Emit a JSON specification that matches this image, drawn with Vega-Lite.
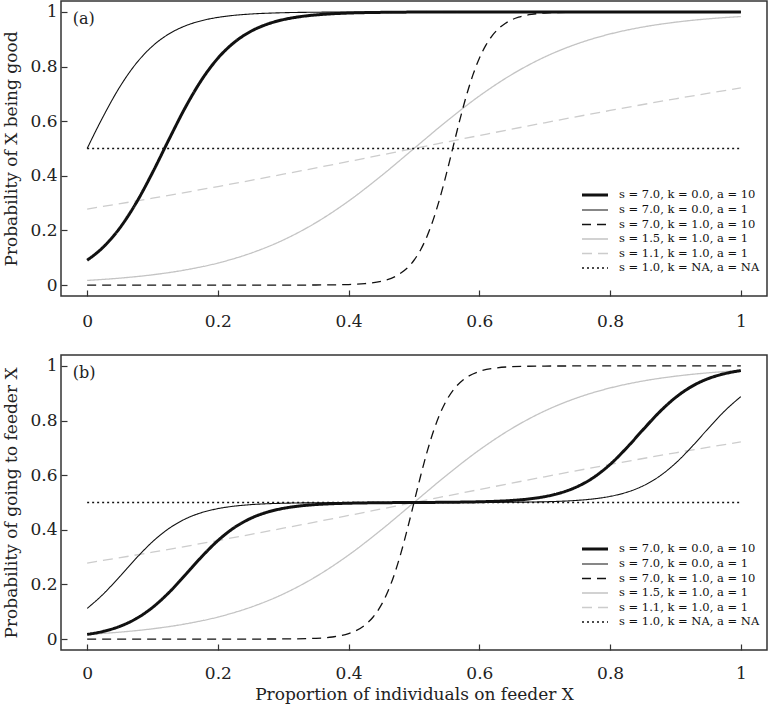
{
"$schema": "https://vega.github.io/schema/vega-lite/v6.json",
"background": "white",
"padding": {"left": 2, "top": 0, "right": 2, "bottom": 2},
"config": {
 "font": "DejaVu Serif",
 "view": {"stroke": "#333", "strokeWidth": 1.5},
 "axis": {"labelFont": "DejaVu Serif", "titleFont": "DejaVu Serif", "labelFontSize": 17, "titleFontSize": 17, "titleFontWeight": "normal", "labelColor": "#222", "titleColor": "#222", "domain": false, "grid": false, "tickColor": "#333", "tickSize": -6, "tickWidth": 1.2},
 "legend": {"orient": "none", "legendX": 526, "legendY": 186, "padding": 0, "labelFont": "DejaVu Serif", "labelFontSize": 11.5, "labelColor": "#111", "labelLimit": 300, "symbolType": "M-2,0H2", "symbolSize": 169, "labelOffset": 16, "rowPadding": 1.5}
},
"datasets": {"curves": [
{"panel":"a","series":"s = 1.5, k = 1.0, a = 1","x":0,"y":0.017},
{"panel":"a","series":"s = 1.5, k = 1.0, a = 1","x":0.05,"y":0.0254},
{"panel":"a","series":"s = 1.5, k = 1.0, a = 1","x":0.1,"y":0.0376},
{"panel":"a","series":"s = 1.5, k = 1.0, a = 1","x":0.15,"y":0.0553},
{"panel":"a","series":"s = 1.5, k = 1.0, a = 1","x":0.2,"y":0.0807},
{"panel":"a","series":"s = 1.5, k = 1.0, a = 1","x":0.25,"y":0.1164},
{"panel":"a","series":"s = 1.5, k = 1.0, a = 1","x":0.3,"y":0.1649},
{"panel":"a","series":"s = 1.5, k = 1.0, a = 1","x":0.35,"y":0.2286},
{"panel":"a","series":"s = 1.5, k = 1.0, a = 1","x":0.4,"y":0.3077},
{"panel":"a","series":"s = 1.5, k = 1.0, a = 1","x":0.45,"y":0.4},
{"panel":"a","series":"s = 1.5, k = 1.0, a = 1","x":0.5,"y":0.5},
{"panel":"a","series":"s = 1.5, k = 1.0, a = 1","x":0.55,"y":0.6},
{"panel":"a","series":"s = 1.5, k = 1.0, a = 1","x":0.6,"y":0.6923},
{"panel":"a","series":"s = 1.5, k = 1.0, a = 1","x":0.65,"y":0.7714},
{"panel":"a","series":"s = 1.5, k = 1.0, a = 1","x":0.7,"y":0.8351},
{"panel":"a","series":"s = 1.5, k = 1.0, a = 1","x":0.75,"y":0.8836},
{"panel":"a","series":"s = 1.5, k = 1.0, a = 1","x":0.8,"y":0.9193},
{"panel":"a","series":"s = 1.5, k = 1.0, a = 1","x":0.85,"y":0.9447},
{"panel":"a","series":"s = 1.5, k = 1.0, a = 1","x":0.9,"y":0.9624},
{"panel":"a","series":"s = 1.5, k = 1.0, a = 1","x":0.95,"y":0.9747},
{"panel":"a","series":"s = 1.5, k = 1.0, a = 1","x":1,"y":0.983},
{"panel":"a","series":"s = 1.1, k = 1.0, a = 1","x":0,"y":0.2783},
{"panel":"a","series":"s = 1.1, k = 1.0, a = 1","x":0.1,"y":0.3181},
{"panel":"a","series":"s = 1.1, k = 1.0, a = 1","x":0.2,"y":0.3608},
{"panel":"a","series":"s = 1.1, k = 1.0, a = 1","x":0.3,"y":0.4058},
{"panel":"a","series":"s = 1.1, k = 1.0, a = 1","x":0.4,"y":0.4525},
{"panel":"a","series":"s = 1.1, k = 1.0, a = 1","x":0.5,"y":0.5},
{"panel":"a","series":"s = 1.1, k = 1.0, a = 1","x":0.6,"y":0.5475},
{"panel":"a","series":"s = 1.1, k = 1.0, a = 1","x":0.7,"y":0.5942},
{"panel":"a","series":"s = 1.1, k = 1.0, a = 1","x":0.8,"y":0.6392},
{"panel":"a","series":"s = 1.1, k = 1.0, a = 1","x":0.9,"y":0.6819},
{"panel":"a","series":"s = 1.1, k = 1.0, a = 1","x":1,"y":0.7217},
{"panel":"a","series":"s = 1.0, k = NA, a = NA","x":0,"y":0.5},
{"panel":"a","series":"s = 1.0, k = NA, a = NA","x":1,"y":0.5},
{"panel":"a","series":"s = 7.0, k = 1.0, a = 10","x":0,"y":0},
{"panel":"a","series":"s = 7.0, k = 1.0, a = 10","x":0.1,"y":0},
{"panel":"a","series":"s = 7.0, k = 1.0, a = 10","x":0.2,"y":0},
{"panel":"a","series":"s = 7.0, k = 1.0, a = 10","x":0.3,"y":0.00004},
{"panel":"a","series":"s = 7.0, k = 1.0, a = 10","x":0.35,"y":0.0003},
{"panel":"a","series":"s = 7.0, k = 1.0, a = 10","x":0.4,"y":0.002},
{"panel":"a","series":"s = 7.0, k = 1.0, a = 10","x":0.425,"y":0.0054},
{"panel":"a","series":"s = 7.0, k = 1.0, a = 10","x":0.45,"y":0.0141},
{"panel":"a","series":"s = 7.0, k = 1.0, a = 10","x":0.475,"y":0.0364},
{"panel":"a","series":"s = 7.0, k = 1.0, a = 10","x":0.5,"y":0.0909},
{"panel":"a","series":"s = 7.0, k = 1.0, a = 10","x":0.51,"y":0.1286},
{"panel":"a","series":"s = 7.0, k = 1.0, a = 10","x":0.52,"y":0.1789},
{"panel":"a","series":"s = 7.0, k = 1.0, a = 10","x":0.53,"y":0.2432},
{"panel":"a","series":"s = 7.0, k = 1.0, a = 10","x":0.54,"y":0.3217},
{"panel":"a","series":"s = 7.0, k = 1.0, a = 10","x":0.55,"y":0.4117},
{"panel":"a","series":"s = 7.0, k = 1.0, a = 10","x":0.56,"y":0.508},
{"panel":"a","series":"s = 7.0, k = 1.0, a = 10","x":0.57,"y":0.6037},
{"panel":"a","series":"s = 7.0, k = 1.0, a = 10","x":0.58,"y":0.6921},
{"panel":"a","series":"s = 7.0, k = 1.0, a = 10","x":0.59,"y":0.7685},
{"panel":"a","series":"s = 7.0, k = 1.0, a = 10","x":0.6,"y":0.8305},
{"panel":"a","series":"s = 7.0, k = 1.0, a = 10","x":0.61,"y":0.8785},
{"panel":"a","series":"s = 7.0, k = 1.0, a = 10","x":0.62,"y":0.9142},
{"panel":"a","series":"s = 7.0, k = 1.0, a = 10","x":0.64,"y":0.9587},
{"panel":"a","series":"s = 7.0, k = 1.0, a = 10","x":0.66,"y":0.9806},
{"panel":"a","series":"s = 7.0, k = 1.0, a = 10","x":0.68,"y":0.991},
{"panel":"a","series":"s = 7.0, k = 1.0, a = 10","x":0.7,"y":0.9959},
{"panel":"a","series":"s = 7.0, k = 1.0, a = 10","x":0.75,"y":0.9994},
{"panel":"a","series":"s = 7.0, k = 1.0, a = 10","x":0.8,"y":1},
{"panel":"a","series":"s = 7.0, k = 1.0, a = 10","x":0.9,"y":1},
{"panel":"a","series":"s = 7.0, k = 1.0, a = 10","x":1,"y":1},
{"panel":"a","series":"s = 7.0, k = 0.0, a = 1","x":0,"y":0.5},
{"panel":"a","series":"s = 7.0, k = 0.0, a = 1","x":0.025,"y":0.6193},
{"panel":"a","series":"s = 7.0, k = 0.0, a = 1","x":0.05,"y":0.7257},
{"panel":"a","series":"s = 7.0, k = 0.0, a = 1","x":0.075,"y":0.8114},
{"panel":"a","series":"s = 7.0, k = 0.0, a = 1","x":0.1,"y":0.875},
{"panel":"a","series":"s = 7.0, k = 0.0, a = 1","x":0.125,"y":0.9193},
{"panel":"a","series":"s = 7.0, k = 0.0, a = 1","x":0.15,"y":0.9488},
{"panel":"a","series":"s = 7.0, k = 0.0, a = 1","x":0.175,"y":0.9679},
{"panel":"a","series":"s = 7.0, k = 0.0, a = 1","x":0.2,"y":0.98},
{"panel":"a","series":"s = 7.0, k = 0.0, a = 1","x":0.225,"y":0.9876},
{"panel":"a","series":"s = 7.0, k = 0.0, a = 1","x":0.25,"y":0.9923},
{"panel":"a","series":"s = 7.0, k = 0.0, a = 1","x":0.3,"y":0.9971},
{"panel":"a","series":"s = 7.0, k = 0.0, a = 1","x":0.35,"y":0.9989},
{"panel":"a","series":"s = 7.0, k = 0.0, a = 1","x":0.4,"y":0.9996},
{"panel":"a","series":"s = 7.0, k = 0.0, a = 1","x":0.5,"y":0.9999},
{"panel":"a","series":"s = 7.0, k = 0.0, a = 1","x":0.6,"y":1},
{"panel":"a","series":"s = 7.0, k = 0.0, a = 1","x":0.8,"y":1},
{"panel":"a","series":"s = 7.0, k = 0.0, a = 1","x":1,"y":1},
{"panel":"a","series":"s = 7.0, k = 0.0, a = 10","x":0,"y":0.0909},
{"panel":"a","series":"s = 7.0, k = 0.0, a = 10","x":0.025,"y":0.1399},
{"panel":"a","series":"s = 7.0, k = 0.0, a = 10","x":0.05,"y":0.2092},
{"panel":"a","series":"s = 7.0, k = 0.0, a = 10","x":0.075,"y":0.3009},
{"panel":"a","series":"s = 7.0, k = 0.0, a = 10","x":0.1,"y":0.4118},
{"panel":"a","series":"s = 7.0, k = 0.0, a = 10","x":0.125,"y":0.5324},
{"panel":"a","series":"s = 7.0, k = 0.0, a = 10","x":0.15,"y":0.6494},
{"panel":"a","series":"s = 7.0, k = 0.0, a = 10","x":0.175,"y":0.7508},
{"panel":"a","series":"s = 7.0, k = 0.0, a = 10","x":0.2,"y":0.8305},
{"panel":"a","series":"s = 7.0, k = 0.0, a = 10","x":0.225,"y":0.8885},
{"panel":"a","series":"s = 7.0, k = 0.0, a = 10","x":0.25,"y":0.9284},
{"panel":"a","series":"s = 7.0, k = 0.0, a = 10","x":0.275,"y":0.9547},
{"panel":"a","series":"s = 7.0, k = 0.0, a = 10","x":0.3,"y":0.9717},
{"panel":"a","series":"s = 7.0, k = 0.0, a = 10","x":0.325,"y":0.9824},
{"panel":"a","series":"s = 7.0, k = 0.0, a = 10","x":0.35,"y":0.9891},
{"panel":"a","series":"s = 7.0, k = 0.0, a = 10","x":0.375,"y":0.9933},
{"panel":"a","series":"s = 7.0, k = 0.0, a = 10","x":0.4,"y":0.9959},
{"panel":"a","series":"s = 7.0, k = 0.0, a = 10","x":0.45,"y":0.9984},
{"panel":"a","series":"s = 7.0, k = 0.0, a = 10","x":0.5,"y":0.9994},
{"panel":"a","series":"s = 7.0, k = 0.0, a = 10","x":0.6,"y":0.9999},
{"panel":"a","series":"s = 7.0, k = 0.0, a = 10","x":0.7,"y":1},
{"panel":"a","series":"s = 7.0, k = 0.0, a = 10","x":0.85,"y":1},
{"panel":"a","series":"s = 7.0, k = 0.0, a = 10","x":1,"y":1},
{"panel":"b","series":"s = 1.5, k = 1.0, a = 1","x":0,"y":0.017},
{"panel":"b","series":"s = 1.5, k = 1.0, a = 1","x":0.05,"y":0.0254},
{"panel":"b","series":"s = 1.5, k = 1.0, a = 1","x":0.1,"y":0.0376},
{"panel":"b","series":"s = 1.5, k = 1.0, a = 1","x":0.15,"y":0.0553},
{"panel":"b","series":"s = 1.5, k = 1.0, a = 1","x":0.2,"y":0.0807},
{"panel":"b","series":"s = 1.5, k = 1.0, a = 1","x":0.25,"y":0.1164},
{"panel":"b","series":"s = 1.5, k = 1.0, a = 1","x":0.3,"y":0.1649},
{"panel":"b","series":"s = 1.5, k = 1.0, a = 1","x":0.35,"y":0.2286},
{"panel":"b","series":"s = 1.5, k = 1.0, a = 1","x":0.4,"y":0.3077},
{"panel":"b","series":"s = 1.5, k = 1.0, a = 1","x":0.45,"y":0.4},
{"panel":"b","series":"s = 1.5, k = 1.0, a = 1","x":0.5,"y":0.5},
{"panel":"b","series":"s = 1.5, k = 1.0, a = 1","x":0.55,"y":0.6},
{"panel":"b","series":"s = 1.5, k = 1.0, a = 1","x":0.6,"y":0.6923},
{"panel":"b","series":"s = 1.5, k = 1.0, a = 1","x":0.65,"y":0.7714},
{"panel":"b","series":"s = 1.5, k = 1.0, a = 1","x":0.7,"y":0.8351},
{"panel":"b","series":"s = 1.5, k = 1.0, a = 1","x":0.75,"y":0.8836},
{"panel":"b","series":"s = 1.5, k = 1.0, a = 1","x":0.8,"y":0.9193},
{"panel":"b","series":"s = 1.5, k = 1.0, a = 1","x":0.85,"y":0.9447},
{"panel":"b","series":"s = 1.5, k = 1.0, a = 1","x":0.9,"y":0.9624},
{"panel":"b","series":"s = 1.5, k = 1.0, a = 1","x":0.95,"y":0.9747},
{"panel":"b","series":"s = 1.5, k = 1.0, a = 1","x":1,"y":0.983},
{"panel":"b","series":"s = 1.1, k = 1.0, a = 1","x":0,"y":0.2783},
{"panel":"b","series":"s = 1.1, k = 1.0, a = 1","x":0.1,"y":0.3181},
{"panel":"b","series":"s = 1.1, k = 1.0, a = 1","x":0.2,"y":0.3608},
{"panel":"b","series":"s = 1.1, k = 1.0, a = 1","x":0.3,"y":0.4058},
{"panel":"b","series":"s = 1.1, k = 1.0, a = 1","x":0.4,"y":0.4525},
{"panel":"b","series":"s = 1.1, k = 1.0, a = 1","x":0.5,"y":0.5},
{"panel":"b","series":"s = 1.1, k = 1.0, a = 1","x":0.6,"y":0.5475},
{"panel":"b","series":"s = 1.1, k = 1.0, a = 1","x":0.7,"y":0.5942},
{"panel":"b","series":"s = 1.1, k = 1.0, a = 1","x":0.8,"y":0.6392},
{"panel":"b","series":"s = 1.1, k = 1.0, a = 1","x":0.9,"y":0.6819},
{"panel":"b","series":"s = 1.1, k = 1.0, a = 1","x":1,"y":0.7217},
{"panel":"b","series":"s = 1.0, k = NA, a = NA","x":0,"y":0.5},
{"panel":"b","series":"s = 1.0, k = NA, a = NA","x":1,"y":0.5},
{"panel":"b","series":"s = 7.0, k = 1.0, a = 10","x":0,"y":0},
{"panel":"b","series":"s = 7.0, k = 1.0, a = 10","x":0.2,"y":0},
{"panel":"b","series":"s = 7.0, k = 1.0, a = 10","x":0.3,"y":0.0004},
{"panel":"b","series":"s = 7.0, k = 1.0, a = 10","x":0.35,"y":0.0029},
{"panel":"b","series":"s = 7.0, k = 1.0, a = 10","x":0.375,"y":0.0076},
{"panel":"b","series":"s = 7.0, k = 1.0, a = 10","x":0.4,"y":0.02},
{"panel":"b","series":"s = 7.0, k = 1.0, a = 10","x":0.425,"y":0.0513},
{"panel":"b","series":"s = 7.0, k = 1.0, a = 10","x":0.4375,"y":0.0807},
{"panel":"b","series":"s = 7.0, k = 1.0, a = 10","x":0.45,"y":0.125},
{"panel":"b","series":"s = 7.0, k = 1.0, a = 10","x":0.46,"y":0.1741},
{"panel":"b","series":"s = 7.0, k = 1.0, a = 10","x":0.47,"y":0.2373},
{"panel":"b","series":"s = 7.0, k = 1.0, a = 10","x":0.48,"y":0.3147},
{"panel":"b","series":"s = 7.0, k = 1.0, a = 10","x":0.49,"y":0.404},
{"panel":"b","series":"s = 7.0, k = 1.0, a = 10","x":0.5,"y":0.5},
{"panel":"b","series":"s = 7.0, k = 1.0, a = 10","x":0.51,"y":0.596},
{"panel":"b","series":"s = 7.0, k = 1.0, a = 10","x":0.52,"y":0.6853},
{"panel":"b","series":"s = 7.0, k = 1.0, a = 10","x":0.53,"y":0.7627},
{"panel":"b","series":"s = 7.0, k = 1.0, a = 10","x":0.54,"y":0.8259},
{"panel":"b","series":"s = 7.0, k = 1.0, a = 10","x":0.55,"y":0.875},
{"panel":"b","series":"s = 7.0, k = 1.0, a = 10","x":0.5625,"y":0.9193},
{"panel":"b","series":"s = 7.0, k = 1.0, a = 10","x":0.575,"y":0.9487},
{"panel":"b","series":"s = 7.0, k = 1.0, a = 10","x":0.6,"y":0.98},
{"panel":"b","series":"s = 7.0, k = 1.0, a = 10","x":0.625,"y":0.9924},
{"panel":"b","series":"s = 7.0, k = 1.0, a = 10","x":0.65,"y":0.9971},
{"panel":"b","series":"s = 7.0, k = 1.0, a = 10","x":0.7,"y":0.9996},
{"panel":"b","series":"s = 7.0, k = 1.0, a = 10","x":0.8,"y":1},
{"panel":"b","series":"s = 7.0, k = 1.0, a = 10","x":1,"y":1},
{"panel":"b","series":"s = 7.0, k = 0.0, a = 1","x":0,"y":0.1121},
{"panel":"b","series":"s = 7.0, k = 0.0, a = 1","x":0.025,"y":0.1655},
{"panel":"b","series":"s = 7.0, k = 0.0, a = 1","x":0.05,"y":0.2293},
{"panel":"b","series":"s = 7.0, k = 0.0, a = 1","x":0.075,"y":0.2959},
{"panel":"b","series":"s = 7.0, k = 0.0, a = 1","x":0.1,"y":0.3564},
{"panel":"b","series":"s = 7.0, k = 0.0, a = 1","x":0.125,"y":0.4047},
{"panel":"b","series":"s = 7.0, k = 0.0, a = 1","x":0.15,"y":0.4396},
{"panel":"b","series":"s = 7.0, k = 0.0, a = 1","x":0.175,"y":0.4629},
{"panel":"b","series":"s = 7.0, k = 0.0, a = 1","x":0.2,"y":0.4776},
{"panel":"b","series":"s = 7.0, k = 0.0, a = 1","x":0.225,"y":0.4867},
{"panel":"b","series":"s = 7.0, k = 0.0, a = 1","x":0.25,"y":0.4921},
{"panel":"b","series":"s = 7.0, k = 0.0, a = 1","x":0.275,"y":0.4954},
{"panel":"b","series":"s = 7.0, k = 0.0, a = 1","x":0.3,"y":0.4973},
{"panel":"b","series":"s = 7.0, k = 0.0, a = 1","x":0.35,"y":0.499},
{"panel":"b","series":"s = 7.0, k = 0.0, a = 1","x":0.4,"y":0.4997},
{"panel":"b","series":"s = 7.0, k = 0.0, a = 1","x":0.5,"y":0.5},
{"panel":"b","series":"s = 7.0, k = 0.0, a = 1","x":0.6,"y":0.5003},
{"panel":"b","series":"s = 7.0, k = 0.0, a = 1","x":0.65,"y":0.501},
{"panel":"b","series":"s = 7.0, k = 0.0, a = 1","x":0.7,"y":0.5027},
{"panel":"b","series":"s = 7.0, k = 0.0, a = 1","x":0.725,"y":0.5046},
{"panel":"b","series":"s = 7.0, k = 0.0, a = 1","x":0.75,"y":0.5079},
{"panel":"b","series":"s = 7.0, k = 0.0, a = 1","x":0.775,"y":0.5133},
{"panel":"b","series":"s = 7.0, k = 0.0, a = 1","x":0.8,"y":0.5224},
{"panel":"b","series":"s = 7.0, k = 0.0, a = 1","x":0.825,"y":0.5371},
{"panel":"b","series":"s = 7.0, k = 0.0, a = 1","x":0.85,"y":0.5604},
{"panel":"b","series":"s = 7.0, k = 0.0, a = 1","x":0.875,"y":0.5953},
{"panel":"b","series":"s = 7.0, k = 0.0, a = 1","x":0.9,"y":0.6436},
{"panel":"b","series":"s = 7.0, k = 0.0, a = 1","x":0.925,"y":0.7041},
{"panel":"b","series":"s = 7.0, k = 0.0, a = 1","x":0.95,"y":0.7707},
{"panel":"b","series":"s = 7.0, k = 0.0, a = 1","x":0.975,"y":0.8345},
{"panel":"b","series":"s = 7.0, k = 0.0, a = 1","x":1,"y":0.8879},
{"panel":"b","series":"s = 7.0, k = 0.0, a = 10","x":0,"y":0.017},
{"panel":"b","series":"s = 7.0, k = 0.0, a = 10","x":0.025,"y":0.0284},
{"panel":"b","series":"s = 7.0, k = 0.0, a = 10","x":0.05,"y":0.0466},
{"panel":"b","series":"s = 7.0, k = 0.0, a = 10","x":0.075,"y":0.0748},
{"panel":"b","series":"s = 7.0, k = 0.0, a = 10","x":0.1,"y":0.1158},
{"panel":"b","series":"s = 7.0, k = 0.0, a = 10","x":0.125,"y":0.1701},
{"panel":"b","series":"s = 7.0, k = 0.0, a = 10","x":0.15,"y":0.2344},
{"panel":"b","series":"s = 7.0, k = 0.0, a = 10","x":0.175,"y":0.3009},
{"panel":"b","series":"s = 7.0, k = 0.0, a = 10","x":0.2,"y":0.3606},
{"panel":"b","series":"s = 7.0, k = 0.0, a = 10","x":0.225,"y":0.4079},
{"panel":"b","series":"s = 7.0, k = 0.0, a = 10","x":0.25,"y":0.4417},
{"panel":"b","series":"s = 7.0, k = 0.0, a = 10","x":0.275,"y":0.4642},
{"panel":"b","series":"s = 7.0, k = 0.0, a = 10","x":0.3,"y":0.4785},
{"panel":"b","series":"s = 7.0, k = 0.0, a = 10","x":0.325,"y":0.4872},
{"panel":"b","series":"s = 7.0, k = 0.0, a = 10","x":0.35,"y":0.4925},
{"panel":"b","series":"s = 7.0, k = 0.0, a = 10","x":0.375,"y":0.4956},
{"panel":"b","series":"s = 7.0, k = 0.0, a = 10","x":0.4,"y":0.4974},
{"panel":"b","series":"s = 7.0, k = 0.0, a = 10","x":0.45,"y":0.4992},
{"panel":"b","series":"s = 7.0, k = 0.0, a = 10","x":0.5,"y":0.5},
{"panel":"b","series":"s = 7.0, k = 0.0, a = 10","x":0.55,"y":0.5008},
{"panel":"b","series":"s = 7.0, k = 0.0, a = 10","x":0.6,"y":0.5026},
{"panel":"b","series":"s = 7.0, k = 0.0, a = 10","x":0.625,"y":0.5044},
{"panel":"b","series":"s = 7.0, k = 0.0, a = 10","x":0.65,"y":0.5075},
{"panel":"b","series":"s = 7.0, k = 0.0, a = 10","x":0.675,"y":0.5128},
{"panel":"b","series":"s = 7.0, k = 0.0, a = 10","x":0.7,"y":0.5215},
{"panel":"b","series":"s = 7.0, k = 0.0, a = 10","x":0.725,"y":0.5358},
{"panel":"b","series":"s = 7.0, k = 0.0, a = 10","x":0.75,"y":0.5583},
{"panel":"b","series":"s = 7.0, k = 0.0, a = 10","x":0.775,"y":0.5921},
{"panel":"b","series":"s = 7.0, k = 0.0, a = 10","x":0.8,"y":0.6394},
{"panel":"b","series":"s = 7.0, k = 0.0, a = 10","x":0.825,"y":0.6991},
{"panel":"b","series":"s = 7.0, k = 0.0, a = 10","x":0.85,"y":0.7656},
{"panel":"b","series":"s = 7.0, k = 0.0, a = 10","x":0.875,"y":0.8299},
{"panel":"b","series":"s = 7.0, k = 0.0, a = 10","x":0.9,"y":0.8842},
{"panel":"b","series":"s = 7.0, k = 0.0, a = 10","x":0.925,"y":0.9252},
{"panel":"b","series":"s = 7.0, k = 0.0, a = 10","x":0.95,"y":0.9534},
{"panel":"b","series":"s = 7.0, k = 0.0, a = 10","x":0.975,"y":0.9716},
{"panel":"b","series":"s = 7.0, k = 0.0, a = 10","x":1,"y":0.983}
]},
"spacing": 59,
"bounds": "flush",
"resolve": {"scale": {"color": "independent", "strokeDash": "independent", "strokeWidth": "independent"}, "legend": {"color": "independent", "strokeDash": "independent", "strokeWidth": "independent"}},
"vconcat": [
 {"width": 706, "height": 295,
  "layer": [
   {"data": {"name": "curves"}, "transform": [{"filter": "datum.panel == 'a'"}],
    "mark": {"type": "line", "interpolate": "monotone"},
    "encoding": {
     "x": {"field": "x", "type": "quantitative", "scale": {"domain": [-0.04, 1.04], "nice": false, "zero": false}, "axis": {"title": null, "values": [0, 0.2, 0.4, 0.6, 0.8, 1], "format": "~g", "labelFontSize": 17, "tickSize": -6, "labelPadding": 23}},
     "y": {"field": "y", "type": "quantitative", "scale": {"domain": [-0.04, 1.04], "nice": false, "zero": false}, "axis": {"title": "Probability of X being good", "values": [0, 0.2, 0.4, 0.6, 0.8, 1], "format": "~g", "labelFontSize": 17, "titleFontSize": 17, "tickSize": -6, "labelPadding": 10, "titlePadding": 9}},
     "color": {"field": "series", "type": "nominal", "scale": {"domain": ["s = 7.0, k = 0.0, a = 10", "s = 7.0, k = 0.0, a = 1", "s = 7.0, k = 1.0, a = 10", "s = 1.5, k = 1.0, a = 1", "s = 1.1, k = 1.0, a = 1", "s = 1.0, k = NA, a = NA"], "range": ["#111111", "#111111", "#111111", "#c4c4c4", "#cccccc", "#111111"]}, "legend": {"title": null}},
     "strokeDash": {"field": "series", "type": "nominal", "scale": {"domain": ["s = 7.0, k = 0.0, a = 10", "s = 7.0, k = 0.0, a = 1", "s = 7.0, k = 1.0, a = 10", "s = 1.5, k = 1.0, a = 1", "s = 1.1, k = 1.0, a = 1", "s = 1.0, k = NA, a = NA"], "range": [[1, 0], [1, 0], [9, 6], [1, 0], [10, 6], [2, 3]]}, "legend": {"title": null}},
     "strokeWidth": {"field": "series", "type": "nominal", "scale": {"type": "ordinal", "domain": ["s = 7.0, k = 0.0, a = 10", "s = 7.0, k = 0.0, a = 1", "s = 7.0, k = 1.0, a = 10", "s = 1.5, k = 1.0, a = 1", "s = 1.1, k = 1.0, a = 1", "s = 1.0, k = NA, a = NA"], "range": [3, 1.1, 1.3, 1.3, 1.3, 1.3]}, "legend": {"title": null}}
    }},
   {"data": {"values": [{"t": "(a)"}]},
    "mark": {"type": "text", "align": "left", "baseline": "middle", "font": "DejaVu Serif", "fontSize": 16, "color": "#222"},
    "encoding": {"x": {"datum": -0.022}, "y": {"datum": 0.975}, "text": {"field": "t"}}}
  ]},
 {"width": 706, "height": 295,
  "layer": [
   {"data": {"name": "curves"}, "transform": [{"filter": "datum.panel == 'b'"}],
    "mark": {"type": "line", "interpolate": "monotone"},
    "encoding": {
     "x": {"field": "x", "type": "quantitative", "scale": {"domain": [-0.04, 1.04], "nice": false, "zero": false}, "axis": {"title": "Proportion of individuals on feeder X", "values": [0, 0.2, 0.4, 0.6, 0.8, 1], "format": "~g", "labelFontSize": 17, "titleFontSize": 17, "tickSize": -6, "labelPadding": 21, "titlePadding": 5}},
     "y": {"field": "y", "type": "quantitative", "scale": {"domain": [-0.04, 1.04], "nice": false, "zero": false}, "axis": {"title": "Probability of going to feeder X", "values": [0, 0.2, 0.4, 0.6, 0.8, 1], "format": "~g", "labelFontSize": 17, "titleFontSize": 17, "tickSize": -6, "labelPadding": 10, "titlePadding": 9}},
     "color": {"field": "series", "type": "nominal", "scale": {"domain": ["s = 7.0, k = 0.0, a = 10", "s = 7.0, k = 0.0, a = 1", "s = 7.0, k = 1.0, a = 10", "s = 1.5, k = 1.0, a = 1", "s = 1.1, k = 1.0, a = 1", "s = 1.0, k = NA, a = NA"], "range": ["#111111", "#111111", "#111111", "#c4c4c4", "#cccccc", "#111111"]}, "legend": {"title": null}},
     "strokeDash": {"field": "series", "type": "nominal", "scale": {"domain": ["s = 7.0, k = 0.0, a = 10", "s = 7.0, k = 0.0, a = 1", "s = 7.0, k = 1.0, a = 10", "s = 1.5, k = 1.0, a = 1", "s = 1.1, k = 1.0, a = 1", "s = 1.0, k = NA, a = NA"], "range": [[1, 0], [1, 0], [9, 6], [1, 0], [10, 6], [2, 3]]}, "legend": {"title": null}},
     "strokeWidth": {"field": "series", "type": "nominal", "scale": {"type": "ordinal", "domain": ["s = 7.0, k = 0.0, a = 10", "s = 7.0, k = 0.0, a = 1", "s = 7.0, k = 1.0, a = 10", "s = 1.5, k = 1.0, a = 1", "s = 1.1, k = 1.0, a = 1", "s = 1.0, k = NA, a = NA"], "range": [3, 1.1, 1.3, 1.3, 1.3, 1.3]}, "legend": {"title": null}}
    }},
   {"data": {"values": [{"t": "(b)"}]},
    "mark": {"type": "text", "align": "left", "baseline": "middle", "font": "DejaVu Serif", "fontSize": 16, "color": "#222"},
    "encoding": {"x": {"datum": -0.022}, "y": {"datum": 0.975}, "text": {"field": "t"}}}
  ]}
]
}
